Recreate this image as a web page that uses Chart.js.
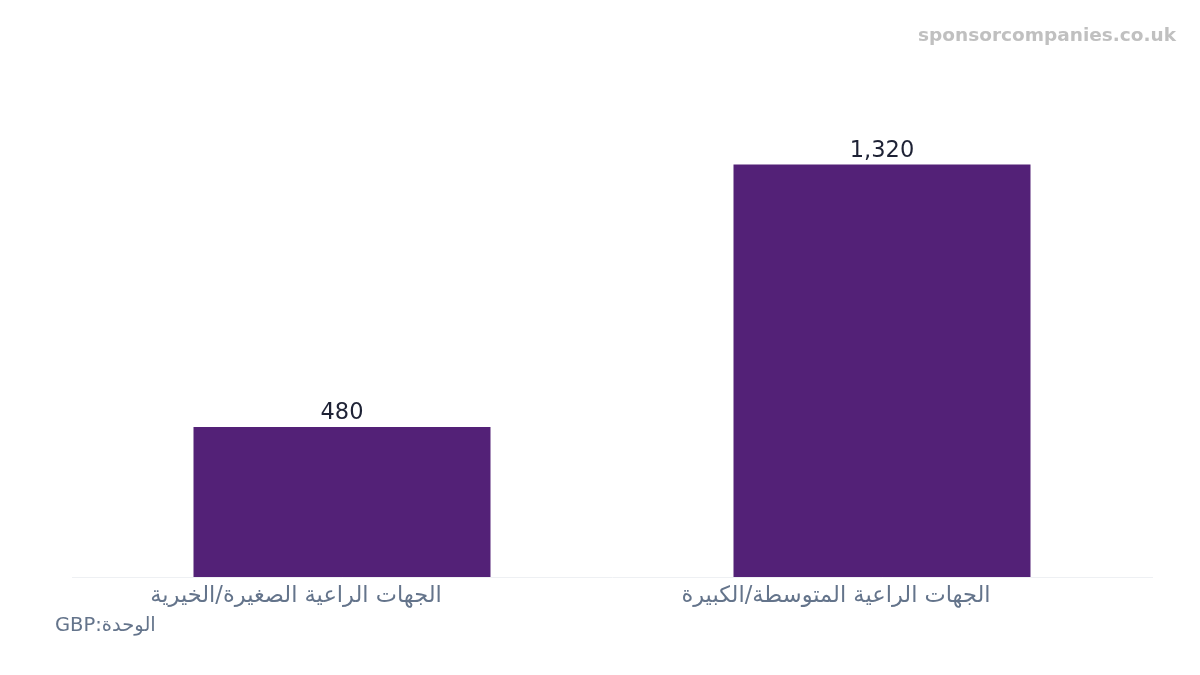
<!DOCTYPE html>
<html>
<head>
<meta charset="utf-8">
<script src="https://cdn.jsdelivr.net/npm/chart.js@4"></script>
<style>
html,body{margin:0;padding:0;background:#fff;}
#wrap{width:1200px;height:675px;position:relative;}
</style>
</head>
<body>
<div id="wrap"><canvas id="c" width="1200" height="675"></canvas></div>
<script>
const categories = ["الجهات الراعية الصغيرة/الخيرية", "الجهات الراعية المتوسطة/الكبيرة"];
const values = [480, 1320];
const unitLabel = "GBP:الوحدة";
const watermark = "sponsorcompanies.co.uk";

const FONT = "'DejaVu Sans', sans-serif";

const extras = {
  id: 'extras',
  afterDatasetsDraw(chart) {
    const ctx = chart.ctx;
    const meta = chart.getDatasetMeta(0);
    ctx.save();
    ctx.font = "22.5px " + FONT;
    ctx.fillStyle = "#1e2235";
    ctx.textAlign = "center";
    ctx.textBaseline = "alphabetic";
    meta.data.forEach((bar, i) => {
      ctx.fillText(values[i].toLocaleString('en-US'), bar.x, bar.y - 8);
    });
    ctx.restore();
  },
  afterDraw(chart) {
    const ctx = chart.ctx;
    ctx.save();
    ctx.font = "bold 18.5px " + FONT;
    ctx.fillStyle = "#c0c0c0";
    ctx.textAlign = "right";
    ctx.textBaseline = "middle";
    ctx.fillText(watermark, 1176, 36);
    ctx.font = "19.5px " + FONT;
    ctx.fillStyle = "#64748b";
    ctx.textAlign = "left";
    ctx.textBaseline = "alphabetic";
    ctx.fillText(unitLabel, 55, 631);
    ctx.restore();
  }
};

new Chart(document.getElementById('c'), {
  type: 'bar',
  data: {
    labels: categories,
    datasets: [{
      data: values,
      backgroundColor: '#532177',
      barPercentage: 0.55,
      categoryPercentage: 1.0
    }]
  },
  options: {
    responsive: false,
    animation: false,
    layout: { padding: { left: 72, right: 48, top: 77, bottom: 59 } },
    plugins: { legend: { display: false }, tooltip: { enabled: false } },
    scales: {
      x: {
        grid: { display: false, drawTicks: false },
        border: { display: true, color: '#eef0f3', width: 1 },
        ticks: { font: { family: FONT, size: 22.5 }, color: '#64748b', padding: 6, labelOffset: -46 }
      },
      y: {
        display: false,
        min: 0,
        max: 1600
      }
    }
  },
  plugins: [extras]
});
</script>
</body>
</html>
